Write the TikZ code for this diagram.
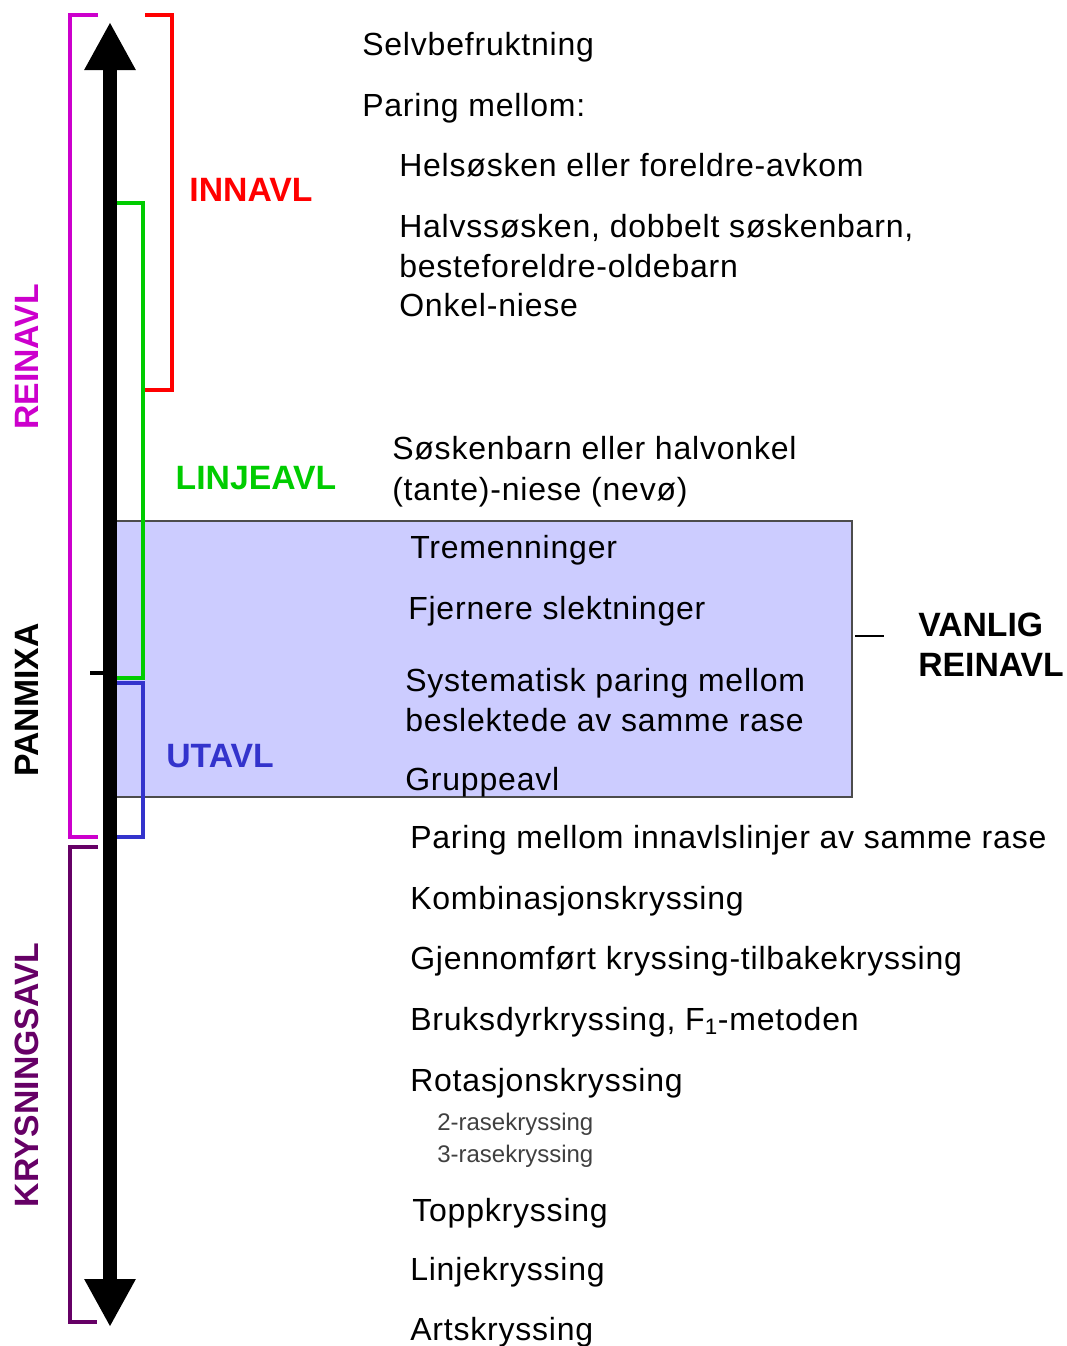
\documentclass[tikz,border=0pt]{standalone}
\usepackage{fontspec}
\setmainfont{Liberation Sans}
\newfontfamily\punktfont[LetterSpace=2.5]{Liberation Sans}
\usetikzlibrary{arrows.meta,calc}
\definecolor{reinavlcol}{RGB}{204,0,204}
\definecolor{innavlcol}{RGB}{255,0,0}
\definecolor{linjecol}{RGB}{0,204,0}
\definecolor{utavlcol}{RGB}{51,51,204}
\definecolor{krysscol}{RGB}{102,0,102}
\definecolor{boxcol}{RGB}{204,204,255}
\tikzset{
  punkt/.style={anchor=base west,inner sep=0pt,font=\punktfont\fontsize{24}{28}\selectfont},
  underpunkt/.style={anchor=base west,inner sep=0pt,text=black!75,font=\fontsize{18}{21}\selectfont},
  navn/.style={inner sep=0pt,font=\bfseries\fontsize{25.3}{29}\selectfont},
  klamme/.style={line width=2.4pt}
}

\begin{document}
\begin{tikzpicture}[x=0.75pt,y=-0.75pt]
    \useasboundingbox (0,0) rectangle (1067,1346);
    \pgfmathsetmacro{\akse}{110}

    % boksen for vanlig reinavl
    \filldraw[fill=boxcol,draw=black!70,line width=0.8pt] (115,521) rectangle (852,797);
    \coordinate (boks) at (852,636);
    \coordinate (vstrek) at (884,636);
    \draw[line width=0.8pt] ($(boks)+(3,0)$) -- (vstrek);

    % klammer
    \draw[klamme,reinavlcol] (98,15) -- (70,15) -- (70,837) -- (98,837);
    \draw[klamme,innavlcol] (145,15) -- (172,15) -- (172,390) -- (145,390);
    \draw[klamme,linjecol] (115,203) -- (143,203) -- (143,678) -- (115,678);
    \draw[klamme,utavlcol] (115,683) -- (143,683) -- (143,837) -- (115,837);
    \draw[klamme,krysscol] (98,847) -- (70,847) -- (70,1322) -- (97,1322);

    % aksen
    \coordinate (piltopp) at (\akse,22);
    \coordinate (pilbunn) at (\akse,1327);
    \draw[line width=10.5pt,{Triangle[width=36pt,length=36pt]}-{Triangle[width=36pt,length=36pt]}] (pilbunn) -- (piltopp);
    \draw[line width=2.4pt] (90,673) -- (\akse,673);

    % navn
    \node[navn,text=innavlcol] (innavl) at (251,190) {INNAVL};
    \node[navn,text=linjecol] (linjeavl) at (256,478) {LINJEAVL};
    \node[navn,text=utavlcol] (utavl) at (220,756) {UTAVL};
    \node[navn,text=reinavlcol,rotate=90] (reinavl) at (27,357) {REINAVL};
    \node[navn,rotate=90] (panmixa) at (27,700) {PANMIXA};
    \node[navn,text=krysscol,rotate=90] (krysning) at (27,1075) {KRYSNINGSAVL};
    \node[navn,anchor=west] (vanlig) at (918,625) {VANLIG};
    \node[navn,anchor=west] (vreinavl) at (918,665) {REINAVL};

    % parringsformer
    \node[punkt] (selv) at (362,55) {Selvbefruktning};
    \node[punkt] (paring) at (362,116) {Paring mellom:};
    \node[punkt] (hel) at (399,176) {Helsøsken eller foreldre-avkom};
    \node[punkt] (halv) at (399,237) {Halvssøsken, dobbelt søskenbarn,};
    \node[punkt] (beste) at (399,277) {besteforeldre-oldebarn};
    \node[punkt] (onkel) at (399,316) {Onkel-niese};
    \node[punkt] (sosken) at (392,459) {Søskenbarn eller halvonkel};
    \node[punkt] (tante) at (392,500) {(tante)-niese (nevø)};
    \node[punkt] (trem) at (410,558) {Tremenninger};
    \node[punkt] (fjern) at (408,619) {Fjernere slektninger};
    \node[punkt] (syst) at (405,691) {Systematisk paring mellom};
    \node[punkt] (beslekt) at (405,731) {beslektede av samme rase};
    \node[punkt] (gruppe) at (405,790) {Gruppeavl};
    \node[punkt] (innlinje) at (410,848) {Paring mellom innavlslinjer av samme rase};
    \node[punkt] (komb) at (410,909) {Kombinasjonskryssing};
    \node[punkt] (gjenn) at (410,969) {Gjennomført kryssing-tilbakekryssing};
    \node[punkt] (bruk) at (410,1030) {Bruksdyrkryssing, F\textsubscript{1}-metoden};
    \node[punkt] (rot) at (410,1091) {Rotasjonskryssing};
    \node[underpunkt] (to) at (437,1130) {2-rasekryssing};
    \node[underpunkt] (tre) at (437,1162) {3-rasekryssing};
    \node[punkt] (toppk) at (412,1221) {Toppkryssing};
    \node[punkt] (linje) at (410,1280) {Linjekryssing};
    \node[punkt] (arts) at (410,1340) {Artskryssing};

\end{tikzpicture}
\end{document}
